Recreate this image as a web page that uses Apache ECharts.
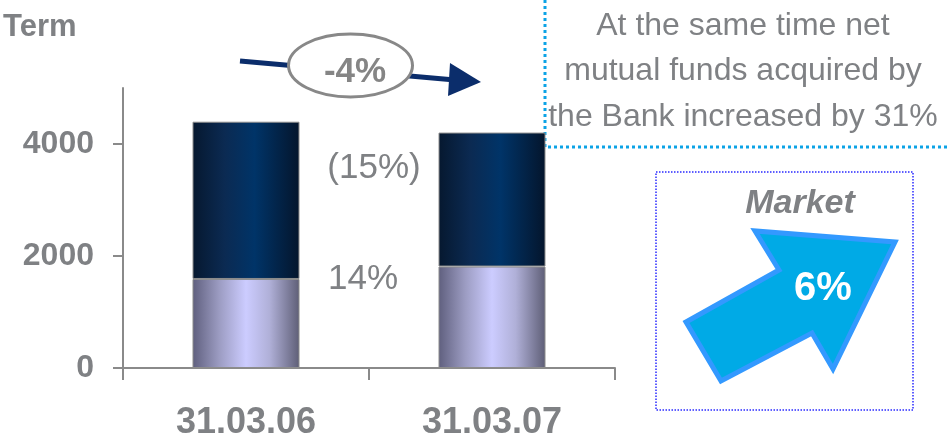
<!DOCTYPE html>
<html><head><meta charset="utf-8">
<script src="https://cdn.jsdelivr.net/npm/echarts@6/dist/echarts.min.js"></script>
<style>html,body{margin:0;padding:0;background:#fff}#c{width:947px;height:437px}</style>
</head><body><div id="c"></div>
<script>
const categories = ['31.03.06', '31.03.07'];
const lowerValues = [1590, 1812];
const upperValues = [2808, 2392];
const yTicks = [0, 2000, 4000];
const yMax = 5000;

const gray = '#7f8184';
const font = 'Liberation Sans, Arial, sans-serif';

const chart = echarts.init(document.getElementById('c'), null, {renderer: 'canvas'});
chart.setOption({
  animation: false,
  backgroundColor: '#fff',
  grid: {left: 123, right: 332, top: 88, bottom: 69, containLabel: false, outerBoundsMode: 'none'},
  xAxis: {
    type: 'category', data: categories,
    axisLine: {lineStyle: {color: '#8a8a8a', width: 2}},
    axisTick: {show: true, length: 12, lineStyle: {color: '#8a8a8a', width: 2}},
    axisLabel: {color: gray, fontFamily: font, fontWeight: 'bold', fontSize: 36, margin: 37}
  },
  yAxis: {
    type: 'value', min: 0, max: yMax, interval: 1000,
    splitLine: {show: false},
    axisLine: {show: true, lineStyle: {color: '#8a8a8a', width: 2}},
    axisTick: {show: true, length: 10, customValues: yTicks, lineStyle: {color: '#8a8a8a', width: 2}},
    axisLabel: {customValues: yTicks, formatter: v => String(v), color: gray, fontFamily: font, fontWeight: 'bold', fontSize: 32, margin: 29}
  },
  series: [
    {type: 'bar', stack: 't', data: lowerValues, barWidth: 107,
      itemStyle: {borderColor: '#8c8c8c', borderWidth: 1,
        color: {type: 'linear', x: 0, y: 0, x2: 1, y2: 0, colorStops: [
          {offset: 0, color: '#5f5f7e'}, {offset: 0.25, color: '#9c9cc2'},
          {offset: 0.5, color: '#ccccff'}, {offset: 0.72, color: '#b0b0d8'},
          {offset: 1, color: '#5e5e76'}]}}},
    {type: 'bar', stack: 't', data: upperValues, barWidth: 107,
      itemStyle: {borderColor: '#8c8c8c', borderWidth: 1,
        color: {type: 'linear', x: 0, y: 0, x2: 1, y2: 0, colorStops: [
          {offset: 0, color: '#06182f'}, {offset: 0.3, color: '#0b2a52'},
          {offset: 0.58, color: '#003468'}, {offset: 1, color: '#04152c'}]}}}
  ],
  graphic: [
    {type: 'text', x: 3, y: 27, style: {text: 'Term', fill: gray, font: 'bold 31px ' + font, verticalAlign: 'middle'}},
    // dotted cyan frame
    {type: 'polyline', shape: {points: [[545, 0], [545, 147], [947, 147]]},
      style: {stroke: '#0ca3e6', lineWidth: 3, lineDash: [3, 3], fill: null}},
    {type: 'text', x: 743, y: 71.5, style: {text: 'At the same time net\nmutual funds acquired by\nthe Bank increased by 31%',
      fill: gray, font: '32px ' + font, align: 'center', verticalAlign: 'middle', lineHeight: 45.5}},
    // trend arrow
    {type: 'line', shape: {x1: 240, y1: 61, x2: 455, y2: 80}, style: {stroke: '#0b2d6b', lineWidth: 5}},
    {type: 'polygon', shape: {points: [[450, 63], [481, 82], [448, 96]]}, style: {fill: '#0b2d6b'}},
    {type: 'ellipse', shape: {cx: 350.5, cy: 65.5, rx: 62, ry: 31.5}, style: {fill: '#fff', stroke: '#888', lineWidth: 3}},
    {type: 'text', x: 355, y: 72, style: {text: '-4%', fill: '#858585', font: 'bold 35px ' + font, align: 'center', verticalAlign: 'middle'}},
    {type: 'text', x: 374, y: 168, style: {text: '(15%)', fill: gray, font: '35px ' + font, align: 'center', verticalAlign: 'middle'}},
    {type: 'text', x: 363, y: 279, style: {text: '14%', fill: gray, font: '35px ' + font, align: 'center', verticalAlign: 'middle'}},
    // market box
    {type: 'rect', shape: {x: 656, y: 172, width: 257, height: 238}, style: {fill: null, stroke: '#2a2aff', lineWidth: 1.5, lineDash: [1.5, 1.5]}},
    {type: 'text', x: 800, y: 204, style: {text: 'Market', fill: gray, font: 'italic bold 34px ' + font, align: 'center', verticalAlign: 'middle'}},
    {type: 'polygon', shape: {points: [[686, 322], [721, 381], [812, 333], [833, 369], [895, 242], [755, 231], [779, 270]]},
      style: {fill: '#00aae6', stroke: '#3399ff', lineWidth: 5, lineJoin: 'miter'}},
    {type: 'text', x: 823, y: 289, style: {text: '6%', fill: '#fff', font: 'bold 40px ' + font, align: 'center', verticalAlign: 'middle'}}
  ]
});
</script></body></html>
